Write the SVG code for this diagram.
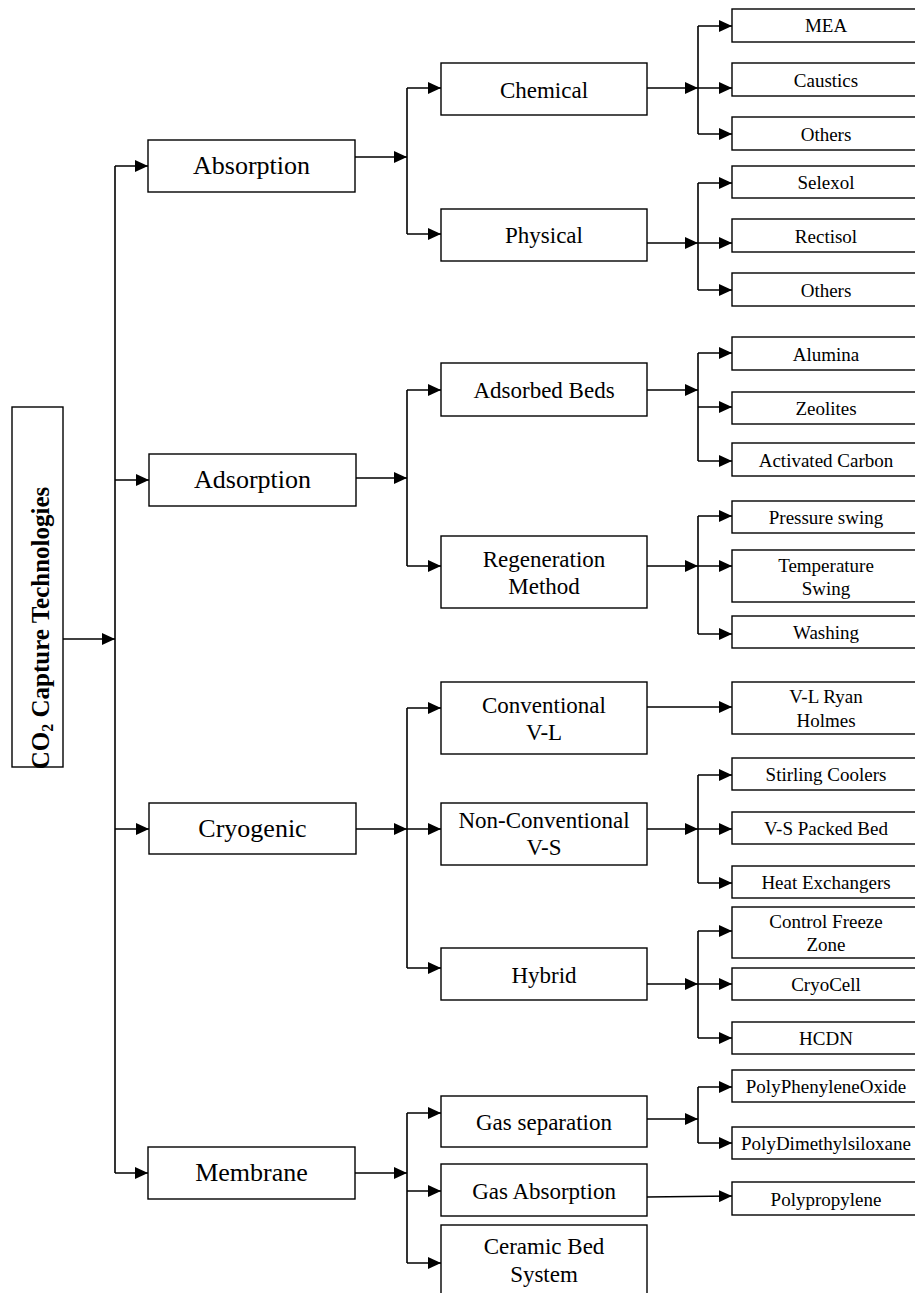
<svg xmlns="http://www.w3.org/2000/svg" width="915" height="1293" viewBox="0 0 915 1293">
<style>
rect{fill:#fff;stroke:#000;stroke-width:1.4}
text{font-family:'Liberation Serif','DejaVu Serif',serif;fill:#000;text-anchor:middle}
.l1{font-size:26px}
.l2{font-size:23px}
.l3{font-size:19px}
.root{font-size:25px;font-weight:bold}
#connectors line{stroke:#000;stroke-width:1.6;fill:none}
.a{marker-end:url(#ah)}
</style>
<defs>
<marker id="ah" markerUnits="userSpaceOnUse" markerWidth="13" markerHeight="12" refX="13" refY="6" orient="auto">
<path d="M0,0 L13,6 L0,12 Z" fill="#000"/>
</marker>
</defs>
<rect x="0" y="0" width="915" height="1293" style="fill:#fff;stroke:none"/>
<g id="connectors">
<line class="a" x1="63" y1="639" x2="115" y2="639"/>
<line x1="115" y1="166" x2="115" y2="1173"/>
<line class="a" x1="115" y1="166" x2="148" y2="166"/>
<line class="a" x1="115" y1="480" x2="149" y2="480"/>
<line class="a" x1="115" y1="829" x2="149" y2="829"/>
<line class="a" x1="115" y1="1173" x2="148" y2="1173"/>

<line class="a" x1="355" y1="157" x2="407" y2="157"/>
<line x1="407" y1="88" x2="407" y2="234"/>
<line class="a" x1="407" y1="88" x2="441" y2="88"/>
<line class="a" x1="407" y1="234" x2="441" y2="234"/>
<line class="a" x1="647" y1="88" x2="698" y2="88"/>
<line x1="698" y1="26" x2="698" y2="134"/>
<line class="a" x1="698" y1="26" x2="732" y2="26"/>
<line class="a" x1="698" y1="88" x2="732" y2="88"/>
<line class="a" x1="698" y1="134" x2="732" y2="134"/>
<line class="a" x1="647" y1="243" x2="698" y2="243"/>
<line x1="698" y1="183" x2="698" y2="290"/>
<line class="a" x1="698" y1="183" x2="732" y2="183"/>
<line class="a" x1="698" y1="243" x2="732" y2="243"/>
<line class="a" x1="698" y1="290" x2="732" y2="290"/>

<line class="a" x1="356" y1="478" x2="407" y2="478"/>
<line x1="407" y1="390" x2="407" y2="566"/>
<line class="a" x1="407" y1="390" x2="441" y2="390"/>
<line class="a" x1="407" y1="566" x2="441" y2="566"/>
<line class="a" x1="647" y1="390" x2="698" y2="390"/>
<line x1="698" y1="353" x2="698" y2="461"/>
<line class="a" x1="698" y1="353" x2="732" y2="353"/>
<line class="a" x1="698" y1="407" x2="732" y2="407"/>
<line class="a" x1="698" y1="461" x2="732" y2="461"/>
<line class="a" x1="647" y1="566" x2="698" y2="566"/>
<line x1="698" y1="516" x2="698" y2="634"/>
<line class="a" x1="698" y1="516" x2="732" y2="516"/>
<line class="a" x1="698" y1="566" x2="732" y2="566"/>
<line class="a" x1="698" y1="634" x2="732" y2="634"/>

<line class="a" x1="356" y1="829" x2="407" y2="829"/>
<line x1="407" y1="708" x2="407" y2="968"/>
<line class="a" x1="407" y1="708" x2="441" y2="708"/>
<line class="a" x1="407" y1="829" x2="441" y2="829"/>
<line class="a" x1="407" y1="968" x2="441" y2="968"/>
<line class="a" x1="647" y1="707" x2="732" y2="707"/>
<line class="a" x1="647" y1="829" x2="698" y2="829"/>
<line x1="698" y1="775" x2="698" y2="883"/>
<line class="a" x1="698" y1="775" x2="732" y2="775"/>
<line class="a" x1="698" y1="829" x2="732" y2="829"/>
<line class="a" x1="698" y1="883" x2="732" y2="883"/>
<line class="a" x1="647" y1="984" x2="698" y2="984"/>
<line x1="698" y1="931" x2="698" y2="1038"/>
<line class="a" x1="698" y1="931" x2="732" y2="931"/>
<line class="a" x1="698" y1="984" x2="732" y2="984"/>
<line class="a" x1="698" y1="1038" x2="732" y2="1038"/>

<line class="a" x1="355" y1="1173" x2="407" y2="1173"/>
<line x1="407" y1="1113" x2="407" y2="1263"/>
<line class="a" x1="407" y1="1113" x2="441" y2="1113"/>
<line class="a" x1="407" y1="1191" x2="441" y2="1191"/>
<line class="a" x1="407" y1="1263" x2="441" y2="1263"/>
<line class="a" x1="647" y1="1119" x2="698" y2="1119"/>
<line x1="698" y1="1087" x2="698" y2="1143"/>
<line class="a" x1="698" y1="1087" x2="732" y2="1087"/>
<line class="a" x1="698" y1="1143" x2="732" y2="1143"/>
<line class="a" x1="647" y1="1197" x2="732" y2="1196"/>
</g>

<g id="root"><rect x="12" y="407" width="51" height="360"/>
<text class="root" transform="translate(49,628) rotate(-90)">CO<tspan font-size="16" dy="4">2</tspan><tspan dy="-4"> Capture Technologies</tspan></text></g>

<g id="absorption"><rect x="148" y="140" width="207" height="52"/><text class="l1" x="251.5" y="174">Absorption</text></g>
<g id="adsorption"><rect x="149" y="454" width="207" height="52"/><text class="l1" x="252.5" y="488">Adsorption</text></g>
<g id="cryogenic"><rect x="149" y="803" width="207" height="51"/><text class="l1" x="252.5" y="837">Cryogenic</text></g>
<g id="membrane"><rect x="148" y="1147" width="207" height="52"/><text class="l1" x="251.5" y="1181">Membrane</text></g>

<g id="chemical"><rect x="441" y="63" width="206" height="52"/><text class="l2" x="544" y="98">Chemical</text></g>
<g id="physical"><rect x="441" y="209" width="206" height="52"/><text class="l2" x="544" y="243">Physical</text></g>
<g id="adsorbed-beds"><rect x="441" y="363" width="206" height="53"/><text class="l2" x="544" y="398">Adsorbed Beds</text></g>
<g id="regeneration"><rect x="441" y="536" width="206" height="72"/><text class="l2" x="544" y="567">Regeneration</text><text class="l2" x="544" y="594">Method</text></g>
<g id="conventional"><rect x="441" y="682" width="206" height="72"/><text class="l2" x="544" y="713">Conventional</text><text class="l2" x="544" y="740">V-L</text></g>
<g id="nonconventional"><rect x="441" y="803" width="206" height="62"/><text class="l2" x="544" y="828">Non-Conventional</text><text class="l2" x="544" y="855">V-S</text></g>
<g id="hybrid"><rect x="441" y="948" width="206" height="52"/><text class="l2" x="544" y="983">Hybrid</text></g>
<g id="gas-separation"><rect x="441" y="1096" width="206" height="51"/><text class="l2" x="544" y="1130">Gas separation</text></g>
<g id="gas-absorption"><rect x="441" y="1164" width="206" height="52"/><text class="l2" x="544" y="1199">Gas Absorption</text></g>
<g id="ceramic"><rect x="441" y="1225" width="206" height="80"/><text class="l2" x="544" y="1254">Ceramic Bed</text><text class="l2" x="544" y="1282">System</text></g>

<g id="mea"><rect x="732" y="9" width="190" height="33"/><text class="l3" x="826" y="32">MEA</text></g>
<g id="caustics"><rect x="732" y="63" width="190" height="33"/><text class="l3" x="826" y="87">Caustics</text></g>
<g id="others1"><rect x="732" y="117" width="190" height="33"/><text class="l3" x="826" y="141">Others</text></g>
<g id="selexol"><rect x="732" y="166" width="190" height="32"/><text class="l3" x="826" y="189">Selexol</text></g>
<g id="rectisol"><rect x="732" y="219" width="190" height="33"/><text class="l3" x="826" y="243">Rectisol</text></g>
<g id="others2"><rect x="732" y="273" width="190" height="33"/><text class="l3" x="826" y="297">Others</text></g>
<g id="alumina"><rect x="732" y="337" width="190" height="33"/><text class="l3" x="826" y="361">Alumina</text></g>
<g id="zeolites"><rect x="732" y="392" width="190" height="32"/><text class="l3" x="826" y="415">Zeolites</text></g>
<g id="activated-carbon"><rect x="732" y="443" width="190" height="33"/><text class="l3" x="826" y="467">Activated Carbon</text></g>
<g id="pressure-swing"><rect x="732" y="501" width="190" height="32"/><text class="l3" x="826" y="524">Pressure swing</text></g>
<g id="temperature-swing"><rect x="732" y="550" width="190" height="52"/><text class="l3" x="826" y="572">Temperature</text><text class="l3" x="826" y="595">Swing</text></g>
<g id="washing"><rect x="732" y="616" width="190" height="32"/><text class="l3" x="826" y="639">Washing</text></g>
<g id="ryan-holmes"><rect x="732" y="682" width="190" height="52"/><text class="l3" x="826" y="703">V-L Ryan</text><text class="l3" x="826" y="727">Holmes</text></g>
<g id="stirling"><rect x="732" y="758" width="190" height="32"/><text class="l3" x="826" y="781">Stirling Coolers</text></g>
<g id="vs-packed"><rect x="732" y="812" width="190" height="32"/><text class="l3" x="826" y="835">V-S Packed Bed</text></g>
<g id="heat-exchangers"><rect x="732" y="866" width="190" height="32"/><text class="l3" x="826" y="889">Heat Exchangers</text></g>
<g id="control-freeze"><rect x="732" y="907" width="190" height="51"/><text class="l3" x="826" y="928">Control Freeze</text><text class="l3" x="826" y="951">Zone</text></g>
<g id="cryocell"><rect x="732" y="968" width="190" height="32"/><text class="l3" x="826" y="991">CryoCell</text></g>
<g id="hcdn"><rect x="732" y="1022" width="190" height="32"/><text class="l3" x="826" y="1045">HCDN</text></g>
<g id="ppo"><rect x="732" y="1070" width="190" height="32"/><text class="l3" x="826" y="1093">PolyPhenyleneOxide</text></g>
<g id="pdms"><rect x="732" y="1127" width="190" height="32"/><text class="l3" x="826" y="1150">PolyDimethylsiloxane</text></g>
<g id="polypropylene"><rect x="732" y="1182" width="190" height="33"/><text class="l3" x="826" y="1206">Polypropylene</text></g>
</svg>
